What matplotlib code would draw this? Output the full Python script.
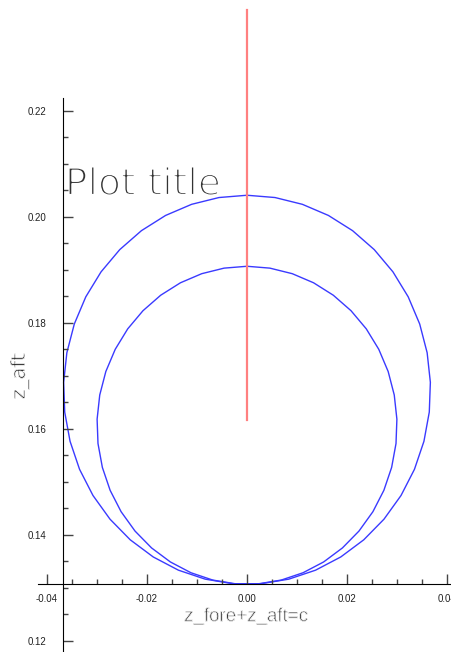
import numpy as np
import matplotlib.pyplot as plt
from matplotlib.patches import RegularPolygon
from matplotlib.ticker import FixedLocator, FormatStrFormatter
import matplotlib.patheffects as pe

plt.rcParams['axes.unicode_minus'] = False

# two circular orbits sharing the bottom point, plus the vertical guide
circle_x = [0.0, 0.0]
circle_y = [0.1674, 0.1607]
circle_r = [0.0367, 0.0300]
guide_x = [0.0, 0.0]
guide_y = [0.1617, 0.2391]

x_origin = -0.0368
y_origin = 0.1307

fig = plt.figure(figsize=(4.51, 6.52), dpi=100)
ax = fig.add_axes([0, 0, 1, 1])
ax.set_xlim(-0.0494, 0.0408)
ax.set_ylim(0.11792, 0.24094)

for cx, cy, r in zip(circle_x, circle_y, circle_r):
    ax.add_patch(RegularPolygon((cx, cy), numVertices=41, radius=r,
                                fill=False, edgecolor='#3a3aff', lw=1.0))

ax.plot(guide_x, guide_y, color='#ff8080', lw=1.6)

# spines crossing at the lower-left corner of the data
for s in ['top', 'right']:
    ax.spines[s].set_visible(False)
ax.spines['left'].set_position(('data', x_origin))
ax.spines['bottom'].set_position(('data', y_origin))
ax.spines['left'].set_bounds(0.118, 0.2225)
ax.spines['bottom'].set_bounds(-0.0418, 0.0408)

ax.xaxis.set_major_locator(FixedLocator(np.arange(-0.04, 0.041, 0.02)))
ax.xaxis.set_minor_locator(FixedLocator(np.arange(-0.04, 0.041, 0.005)))
ax.yaxis.set_major_locator(FixedLocator(np.arange(0.12, 0.221, 0.02)))
ax.yaxis.set_minor_locator(FixedLocator(np.arange(0.12, 0.221, 0.005)))
ax.xaxis.set_major_formatter(FormatStrFormatter('%.2f'))
ax.yaxis.set_major_formatter(FormatStrFormatter('%.2f'))

ax.tick_params(which='both', direction='in', width=1, color='#444444')
ax.tick_params(which='major', length=7)
ax.tick_params(which='minor', length=3.5)
ax.tick_params(axis='y', which='major', pad=12)
ax.tick_params(axis='x', which='major', pad=7)
for lab in ax.get_xticklabels() + ax.get_yticklabels():
    lab.set_fontfamily('Liberation Sans')
    lab.set_fontsize(7)
    lab.set_color('#222222')

ax.text(0.144, 0.701, 'Plot title', transform=fig.transFigure,
        fontsize=27, family='DejaVu Sans', color='#333333',
        va='baseline', ha='left', zorder=1,
        path_effects=[pe.Normal(), pe.Stroke(linewidth=1.5, foreground='white')])
ax.text(0.545, 0.054, 'z_fore+z_aft=c', transform=fig.transFigure,
        fontsize=13.5, family='Liberation Sans', color='#2a2a2a',
        va='center', ha='center', zorder=1,
        path_effects=[pe.Normal(), pe.Stroke(linewidth=0.6, foreground='white')])
ax.text(0.044, 0.423, 'z_aft', transform=fig.transFigure, rotation=90,
        fontsize=14, family='DejaVu Sans', color='#2a2a2a',
        va='center', ha='center', zorder=1,
        path_effects=[pe.Normal(), pe.Stroke(linewidth=0.6, foreground='white')])

fig.savefig('out.png', dpi=100)
